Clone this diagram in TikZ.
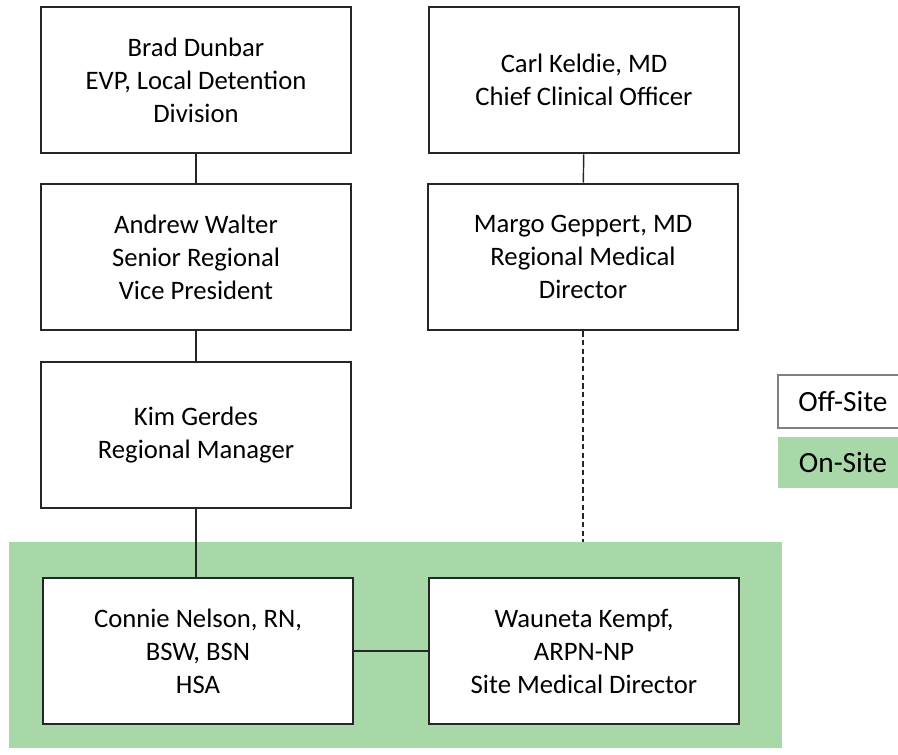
\documentclass[tikz,border=0pt]{standalone}
\usepackage{fontspec}
\setmainfont{Carlito}
\usepackage{tikz}
\usetikzlibrary{positioning}
\definecolor{onsitegreen}{RGB}{169,216,168}
\definecolor{boxline}{RGB}{38,38,38}

\begin{document}
\begin{tikzpicture}[x=0.75pt,y=-0.75pt,line join=miter,
        person/.style={draw=boxline, line width=1.4pt, fill=white, minimum width=232pt,
                minimum height=110pt, align=center, inner sep=0pt,
                font=\fontsize{20}{24.75}\selectfont},
        keybox/.style={minimum width=97.5pt, inner sep=0pt, font=\fontsize{22}{26}\selectfont},
        link/.style={boxline, line width=1.1pt}]
        \useasboundingbox (0,0) rectangle (898,754);
        \clip (0,0) rectangle (898,754);
        % on-site area
        \node[fill=onsitegreen, minimum width=579.75pt, minimum height=154.5pt, inner sep=0pt] (onsite) at (395.5,645) {};
        % left column
        \node[person] (brad) at (196,80) {Brad Dunbar\\EVP, Local Detention\\Division};
        \node[person] (andrew) at (196,257) {Andrew Walter\\Senior Regional\\Vice President};
        \node[person] (kim) at (196,435) {Kim Gerdes\\Regional Manager};
        \node[person] (connie) at (198,651) {Connie Nelson, RN,\\BSW, BSN\\HSA};
        % right column
        \node[person] (carl) at (584,80) {Carl Keldie, MD\\Chief Clinical Officer};
        \node[person] (margo) at (583,257) {Margo Geppert, MD\\Regional Medical\\Director};
        \node[person] (wauneta) at (584,651) {Wauneta Kempf,\\ARPN-NP\\Site Medical Director};
        % key
        \node[keybox, draw=gray, line width=0.8pt, minimum height=39.75pt] (offkey) at (843,401.5) {Off-Site};
        \node[keybox, fill=onsitegreen, minimum height=38.25pt] (onkey) at (843,462.5) {On-Site};

        \draw[link] (brad) -- (andrew);
        \draw[link] (andrew) -- (kim);
        \draw[link] (kim.south) -- (kim.south |- connie.north);
        \draw[link] (carl) -- (margo);
        \draw[link, dash pattern=on 4pt off 2.5pt] (margo.south) -- (margo.south |- onsite.north);
        \draw[link] (connie) -- (wauneta);
\end{tikzpicture}
\end{document}
